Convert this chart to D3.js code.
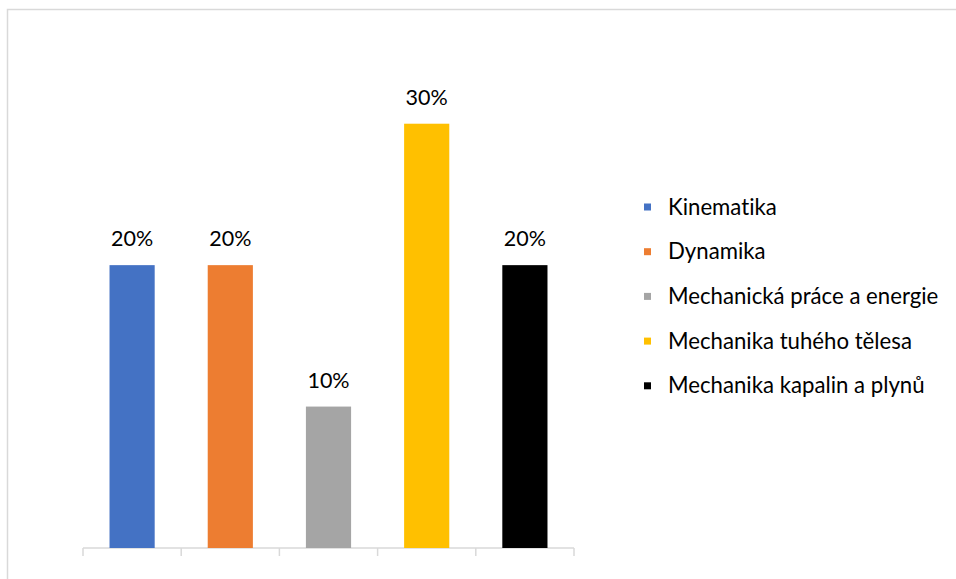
<!DOCTYPE html>
<html><head><meta charset="utf-8">
<script src="https://cdn.jsdelivr.net/npm/d3@7"></script>
<style>html,body{margin:0;padding:0;background:#fff;}svg{display:block;}text{font-variant-ligatures:none;}</style>
</head><body>
<svg id="chart" width="956" height="579"></svg>
<script>
const categories = ["Kinematika","Dynamika","Mechanická práce a energie","Mechanika tuhého tělesa","Mechanika kapalin a plynů"];
const values = [0.20, 0.20, 0.10, 0.30, 0.20];
const colors = ["#4472C4","#ED7D31","#A5A5A5","#FFC000","#000000"];

const svg = d3.select("#chart");
const font = "Lato, 'Open Sans', sans-serif";

// outer border
svg.append("rect").attr("x",7.5).attr("y",9.5).attr("width",960).attr("height",600)
  .attr("fill","none").attr("stroke","#d9d9d9").attr("stroke-width",1.5);

const x = d3.scaleBand().domain(categories).range([83, 574]).paddingInner(0.54).paddingOuter(0.27);
const y = d3.scaleLinear().domain([0, 0.35]).range([548, 53]);

// axis
const g = svg.append("g").attr("transform","translate(0,548)");
g.append("line").attr("x1",83).attr("x2",574).attr("stroke","#d9d9d9").attr("stroke-width",1.5);
const edges = [83].concat(categories.map((c,i)=>83 + (574-83)/categories.length*(i+1)));
g.selectAll("line.tk").data(edges).join("line").attr("class","tk")
  .attr("x1",d=>d).attr("x2",d=>d).attr("y1",0).attr("y2",8)
  .attr("stroke","#d9d9d9").attr("stroke-width",1.5);

// bars
svg.selectAll("rect.bar").data(categories).join("rect").attr("class","bar")
  .attr("x",d=>x(d)).attr("width",x.bandwidth())
  .attr("y",(d,i)=>y(values[i])).attr("height",(d,i)=>y(0)-y(values[i]))
  .attr("fill",(d,i)=>colors[i]);

// labels
svg.selectAll("text.lbl").data(categories).join("text").attr("class","lbl")
  .attr("x",d=>x(d)+x.bandwidth()/2).attr("y",(d,i)=>y(values[i])-19)
  .attr("text-anchor","middle").attr("font-family",font).attr("font-size",21.5)
  .attr("fill","#000").text((d,i)=>d3.format(".0%")(values[i]));

// legend
const lg = svg.append("g");
categories.forEach((c,i)=>{
  const cy = 207 + i*44.7;
  lg.append("rect").attr("x",644).attr("y",cy-3.5).attr("width",7).attr("height",7).attr("fill",colors[i]);
  lg.append("text").attr("x",668).attr("y",cy+7.5).attr("font-family",font).attr("font-size",22.2)
    .attr("fill","#000").text(c);
});
</script>
</body></html>
